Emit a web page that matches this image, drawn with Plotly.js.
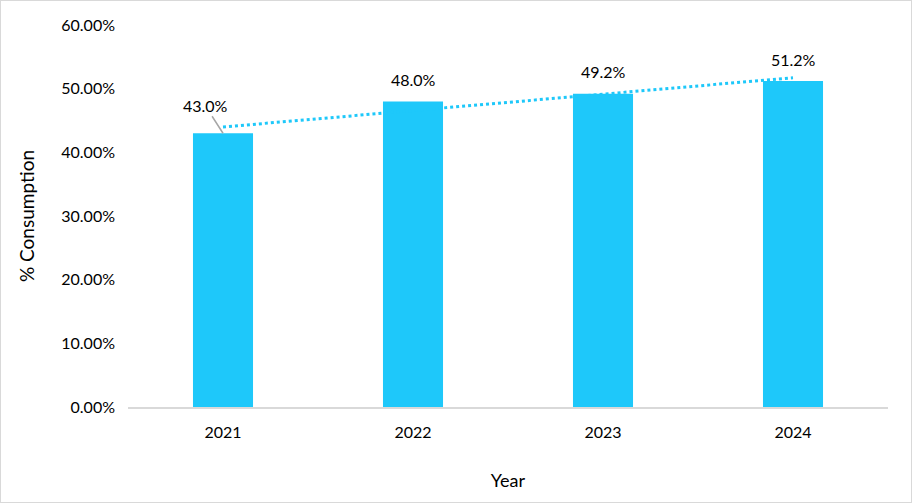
<!DOCTYPE html>
<html>
<head>
<meta charset="utf-8">
<script src="https://cdn.plot.ly/plotly-3.0.1.min.js"></script>
<style>
html,body{margin:0;padding:0;background:#fff;}
#wrap{position:relative;width:912px;height:503px;}
#chart{width:912px;height:503px;}
#frame{position:absolute;left:0;top:0;width:912px;height:503px;box-sizing:border-box;border:1px solid #d9d9d9;pointer-events:none;}
</style>
</head>
<body>
<div id="wrap"><div id="chart"></div><div id="frame"></div></div>
<script>
const years = ['2021', '2022', '2023', '2024'];
const consumption = [0.430, 0.480, 0.492, 0.512];
const labels = ['43.0%', '48.0%', '49.2%', '51.2%'];
const trendYears = ['2021', '2024'];
const trendValues = [0.4398, 0.5172];

const barColor = '#1ec8fa';
const font = {family: 'Lato, "Open Sans", sans-serif', size: 16, color: '#000'};

const traces = [
  {
    type: 'bar', x: years, y: consumption,
    marker: {color: barColor}, width: 0.316,
    hoverinfo: 'skip', showlegend: false
  },
  {
    type: 'scatter', mode: 'lines', x: trendYears, y: trendValues,
    line: {color: barColor, width: 3, dash: 'dot'},
    hoverinfo: 'skip', showlegend: false
  }
];

const annotations = years.map((yr, i) => {
  if (i === 0) {
    return {x: i, y: consumption[i], xref: 'x', yref: 'y', text: labels[i],
      showarrow: true, arrowhead: 0, arrowwidth: 1.5, arrowcolor: '#a6a6a6',
      ax: -18, ay: -28, font: font, standoff: 0};
  }
  return {x: i, y: consumption[i], xref: 'x', yref: 'y', text: labels[i],
    showarrow: false, yshift: 22, font: font};
});

const layout = {
  width: 912, height: 503,
  margin: {l: 128, r: 24, t: 25, b: 96},
  paper_bgcolor: '#fff', plot_bgcolor: '#fff',
  font: font,
  xaxis: {
    type: 'category', range: [-0.5, 3.5], showgrid: false, zeroline: false,
    showline: true, linecolor: '#d9d9d9', linewidth: 2,
    ticks: '', tickfont: font, ticklabelstandoff: 10,
    title: {text: 'Year', font: {family: font.family, size: 18, color: '#000'}, standoff: 34}
  },
  yaxis: {
    range: [0, 0.6], dtick: 0.1, tickformat: '.2%',
    showgrid: false, zeroline: false, showline: false,
    ticks: '', tickfont: font, ticklabelstandoff: 12,
    title: {text: '% Consumption', font: {family: font.family, size: 19, color: '#000'}, standoff: 21}
  },
  annotations: annotations
};

Plotly.newPlot('chart', traces, layout, {displayModeBar: false, staticPlot: true});
</script>
</body>
</html>
